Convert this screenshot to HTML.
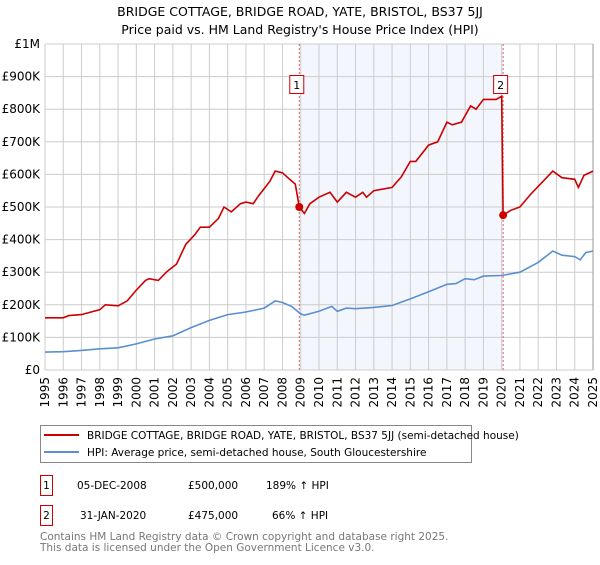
<!DOCTYPE html>
<html><head><meta charset="utf-8"><style>
body{margin:0;background:#fff;font-family:"Liberation Sans","DejaVu Sans",sans-serif;}
svg text{font-family:"DejaVu Sans","Liberation Sans",sans-serif;}
</style></head><body>
<svg id="chart" width="600" height="560" xmlns="http://www.w3.org/2000/svg">
<text x="300" y="16" text-anchor="middle" font-size="12.5">BRIDGE COTTAGE, BRIDGE ROAD, YATE, BRISTOL, BS37 5JJ</text>
<text x="300" y="34" text-anchor="middle" font-size="12.5">Price paid vs. HM Land Registry's House Price Index (HPI)</text>
<g id="plot"></g>
<g>
<rect x="40.5" y="425.5" width="431" height="37" fill="#fff" stroke="#888"/>
<line x1="44" y1="435" x2="79" y2="435" stroke="#cc0000" stroke-width="2"/>
<text x="87" y="439" font-size="10.5">BRIDGE COTTAGE, BRIDGE ROAD, YATE, BRISTOL, BS37 5JJ (semi-detached house)</text>
<line x1="44" y1="452" x2="79" y2="452" stroke="#5b8fd0" stroke-width="2"/>
<text x="87" y="456" font-size="10.5">HPI: Average price, semi-detached house, South Gloucestershire</text>
</g>
<g font-size="10.5">
<rect x="40.5" y="475.5" width="12" height="20" fill="#fff" stroke="#cc0000"/>
<text x="46.5" y="489" text-anchor="middle">1</text>
<text x="77" y="489">05-DEC-2008</text><text x="188" y="489">£500,000</text><text x="266" y="489">189% ↑ HPI</text>
<rect x="40.5" y="505.5" width="12" height="20" fill="#fff" stroke="#cc0000"/>
<text x="46.5" y="519" text-anchor="middle">2</text>
<text x="80" y="519">31-JAN-2020</text><text x="188" y="519">£475,000</text><text x="272" y="519">66% ↑ HPI</text>
</g>
<text x="40" y="540" font-size="10.5" fill="#777">Contains HM Land Registry data © Crown copyright and database right 2025.</text>
<text x="40" y="551" font-size="10.5" fill="#777">This data is licensed under the Open Government Licence v3.0.</text>
</svg>
<script>
const hpiYears=[1995,1996,1997,1998,1999,2000,2001,2002,2003,2004,2005,2006,2007,2007.6,2008,2008.5,2009,2009.2,2010,2010.7,2011,2011.5,2012,2013,2014,2015,2016,2017,2017.5,2018,2018.5,2019,2020,2021,2022,2022.8,2023.3,2024,2024.3,2024.6,2025];
const hpiValues=[55,56,60,65,68,80,95,105,130,152,170,178,190,212,207,195,172,168,180,195,180,190,188,192,198,218,240,263,265,280,277,288,290,300,330,365,352,348,338,360,365];
const priceYears=[1995,1996,1996.3,1997,1998,1998.3,1999,1999.5,2000,2000.5,2000.7,2001.2,2001.7,2002.2,2002.7,2003.2,2003.5,2004,2004.5,2004.8,2005.2,2005.7,2006,2006.4,2006.7,2007.3,2007.6,2008,2008.3,2008.7,2008.92,2009.2,2009.5,2010,2010.6,2011,2011.5,2012,2012.4,2012.6,2013,2014,2014.5,2015,2015.3,2016,2016.5,2017,2017.3,2017.8,2018.3,2018.6,2019,2019.7,2020,2020.08,2020.5,2021,2021.6,2022.2,2022.8,2023.3,2024,2024.2,2024.5,2025];
const priceValues=[160,160,167,170,185,200,197,212,245,275,280,275,303,325,385,415,438,438,465,500,485,510,515,510,535,578,610,605,590,570,500,480,510,530,545,515,545,530,545,530,550,560,592,640,640,690,700,760,752,760,810,800,830,830,840,475,490,500,540,575,610,590,585,560,597,610];
const saleYears=[2008.92,2020.08];
const saleValues=[500,475];
const saleLabels=["1","2"];
const yTicks=[0,100,200,300,400,500,600,700,800,900,1000];
const yTickLabels=["£0","£100K","£200K","£300K","£400K","£500K","£600K","£700K","£800K","£900K","£1M"];
const xTicks=[1995,1996,1997,1998,1999,2000,2001,2002,2003,2004,2005,2006,2007,2008,2009,2010,2011,2012,2013,2014,2015,2016,2017,2018,2019,2020,2021,2022,2023,2024,2025];

const X0=45,X1=593,Y0=370,Y1=44;
const xs=y=>X0+(y-1995)/30*(X1-X0);
const ys=v=>Y0-v/1000*(Y0-Y1);
const NS="http://www.w3.org/2000/svg";
const g=document.getElementById('plot');
function mk(t,a){const e=document.createElementNS(NS,t);for(const k in a)e.setAttribute(k,a[k]);g.appendChild(e);return e;}
const shade=mk('rect',{x:xs(saleYears[0]),y:Y1,width:xs(saleYears[1])-xs(saleYears[0]),height:Y0-Y1,fill:'#f3f6fd'});


yTicks.forEach((v,i)=>{
 const l=mk('line',{x1:X0,x2:X1,y1:ys(v),y2:ys(v),stroke:'#ccc'});
 
 
 const t=mk('text',{x:X0-5,y:ys(v)+4,'text-anchor':'end','font-size':'12'});
 t.textContent=yTickLabels[i];
 
 
});
xTicks.forEach(yr=>{
 const l=mk('line',{x1:xs(yr),x2:xs(yr),y1:Y1,y2:Y0,stroke:'#ccc'});
 
 
 const t=mk('text',{x:0,y:0,'text-anchor':'end','font-size':'12',transform:`translate(${xs(yr)+4},${Y0+7}) rotate(-90)`});
 t.textContent=yr;
 
 
});
const ax=mk('line',{x1:X1,x2:X1,y1:Y1,y2:Y0,stroke:'#999'});


saleYears.forEach((yr,i)=>{
 const l=mk('line',{x1:xs(yr),x2:xs(yr),y1:Y1,y2:Y0,stroke:'#e06060','stroke-dasharray':'2,2'});
 
 
});
function path(xa,va,col,name){
 const d=xa.map((x,i)=>(i?'L':'M')+xs(x).toFixed(1)+','+ys(va[i]).toFixed(1)).join('');
 const p=mk('path',{d:d,fill:'none',stroke:col,'stroke-width':'1.6'});
 
 
}
path(hpiYears,hpiValues,'#5b8fd0','hpi-line');
path(priceYears,priceValues,'#cc0000','price-line');
saleYears.forEach((yr,i)=>{
 const c=mk('circle',{cx:xs(yr),cy:ys(saleValues[i]),r:4,fill:'#cc0000'});
 
 
 const r=mk('rect',{x:xs(yr)-9.5,y:75.5,width:14,height:18,fill:'#fff',stroke:'#cc0000'});
 
 
 const t=mk('text',{x:xs(yr)-2.5,y:89,'text-anchor':'middle','font-size':'11'});
 t.textContent=saleLabels[i];
 
 
});
</script>
</body></html>
